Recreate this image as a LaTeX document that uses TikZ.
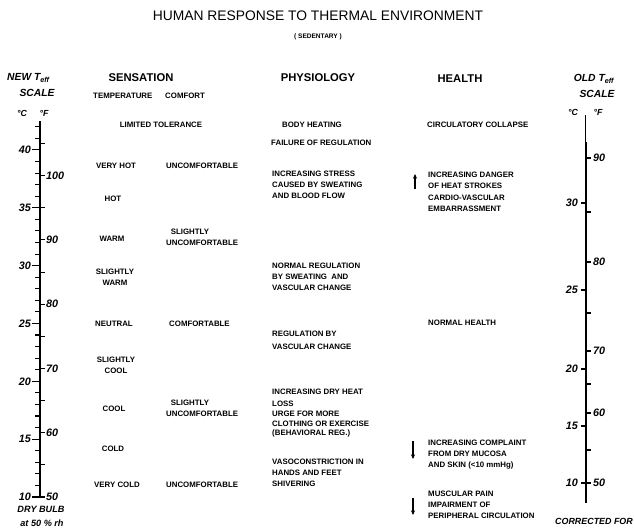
\documentclass[tikz,border=0pt]{standalone}
\usepackage{fontspec}
\setmainfont{Liberation Sans}
\usetikzlibrary{positioning,arrows.meta}
\tikzset{ttl/.style={font=\fontsize{11.8}{13}\selectfont, inner sep=0pt}}
\tikzset{hdr/.style={font=\fontsize{9.6}{11}\selectfont\bfseries, inner sep=0pt}}
\tikzset{lbl/.style={font=\fontsize{6.7}{9.6}\selectfont\bfseries, inner sep=0pt, align=left}}
\tikzset{scl/.style={font=\fontsize{8.8}{10}\selectfont\bfseries\itshape, inner sep=0pt}}
\tikzset{num/.style={font=\fontsize{9.2}{10}\selectfont\bfseries\itshape, inner sep=0pt}}
\tikzset{axis/.style={line width=1.6pt}}
\tikzset{tk/.style={line width=0.9pt}}
\tikzset{arr2/.style={draw, -{Stealth[length=4pt, width=3.5pt]}, line width=0.9pt}}

\begin{document}
\begin{tikzpicture}[x=0.03cm, y=-0.03cm]
\useasboundingbox (0,0) rectangle (634,529);
% title
\node[ttl] (title) at (318,16) {HUMAN RESPONSE TO THERMAL ENVIRONMENT};
\node[lbl, font=\fontsize{5.6}{6}\selectfont\bfseries] (sed) at (318,37) {( SEDENTARY )};
% column heads
\node[scl, anchor=west] (newT) at (7,78) {NEW T\textsubscript{eff}};
\node[scl] (newS) at (37,93) {SCALE};
\node[scl, font=\fontsize{7.5}{9}\selectfont\bfseries\itshape] (newC) at (22,113) {°C};
\node[scl, font=\fontsize{7.5}{9}\selectfont\bfseries\itshape] (newF) at (44,113) {°F};
\node[hdr] (sens) at (141,78) {SENSATION};
\node[hdr] (phys) at (318,78) {PHYSIOLOGY};
\node[hdr] (hlth) at (460,79) {HEALTH};
\node[scl] (oldT) at (594,79) {OLD T\textsubscript{eff}};
\node[scl] (oldS) at (597,94) {SCALE};
\node[scl, font=\fontsize{7.5}{9}\selectfont\bfseries\itshape] (oldC) at (573,112) {°C};
\node[scl, font=\fontsize{7.5}{9}\selectfont\bfseries\itshape] (oldF) at (598,112) {°F};
\node[lbl, anchor=west] (temp) at (93,96) {TEMPERATURE};
\node[lbl, anchor=west] (comf) at (165,96) {COMFORT};

% sensation
\node[lbl] (limit) at (161,125) {LIMITED TOLERANCE};
\node[lbl] (vhot) at (116,166) {VERY HOT};
\node[lbl, anchor=west] (unc1) at (166,166) {UNCOMFORTABLE};
\node[lbl] (hot) at (113,199) {HOT};
\node[lbl] (warm) at (112,239) {WARM};
\node[lbl, anchor=base west] (sunc1) at (166,245.6) {\hspace*{4pt}SLIGHTLY\\UNCOMFORTABLE};
\node[lbl, align=center, anchor=base] (swarm) at (115,285.6) {SLIGHTLY\\WARM};
\node[lbl] (neut) at (114,324) {NEUTRAL};
\node[lbl, anchor=west] (comf2) at (169,324) {COMFORTABLE};
\node[lbl, align=center, anchor=base] (scool) at (116,373.6) {SLIGHTLY\\COOL};
\node[lbl] (cool) at (114,409) {COOL};
\node[lbl, anchor=base west] (sunc2) at (166,416.6) {\hspace*{4pt}SLIGHTLY\\UNCOMFORTABLE};
\node[lbl] (cold) at (113,449) {COLD};
\node[lbl] (vcold) at (117,485) {VERY COLD};
\node[lbl, anchor=west] (unc2) at (166,485) {UNCOMFORTABLE};

% physiology
\node[lbl] (bheat) at (312,125) {BODY HEATING};
\node[lbl, anchor=west] (fail) at (271,143) {FAILURE OF REGULATION};
\node[lbl, anchor=base west] (stress) at (272,198.6) {INCREASING STRESS\\CAUSED BY SWEATING\\AND BLOOD FLOW};
\node[lbl, anchor=base west] (nreg) at (272,290.6) {NORMAL REGULATION\\BY SWEATING\ \ AND\\VASCULAR CHANGE};
\node[lbl, anchor=base west] (vreg) at (272,349.6) {REGULATION BY\\[1.5pt]VASCULAR CHANGE};
\node[lbl, anchor=base west] (dry) at (272,406.6) {INCREASING DRY HEAT\\[1pt]LOSS};
\node[lbl, anchor=base west, font=\fontsize{6.7}{8}\selectfont\bfseries] (urge) at (272,435.6) {URGE FOR MORE\\CLOTHING OR EXERCISE\\(BEHAVIORAL REG.)};
\node[lbl, anchor=base west] (vaso) at (272,486.6) {VASOCONSTRICTION IN\\HANDS AND FEET\\SHIVERING};

% health
\node[lbl, anchor=west] (circ) at (427,125) {CIRCULATORY COLLAPSE};
\node[lbl, anchor=base west] (danger) at (428,188.6) {INCREASING DANGER\\OF HEAT STROKES};
\node[lbl, anchor=base west] (cardio) at (428,211.6) {CARDIO-VASCULAR\\EMBARRASSMENT};
\node[lbl, anchor=west] (nhealth) at (428,323) {NORMAL HEALTH};
\node[lbl, anchor=base west] (compl) at (428,467.6) {INCREASING COMPLAINT\\FROM DRY MUCOSA\\AND SKIN (<10 mmHg)};
\node[lbl, anchor=base west] (musc) at (428,518.6) {MUSCULAR PAIN\\IMPAIRMENT OF\\PERIPHERAL CIRCULATION};

% trend arrows
\coordinate (upA) at (415,189);
\coordinate (upB) at (415,174);
\coordinate (dnA) at (413,441);
\coordinate (dnB) at (413,459);
\coordinate (dnC) at (413,498);
\coordinate (dnD) at (413,515);
\draw[arr2] (upA) -- (upB);
\draw[arr2] (dnA) -- (dnB);
\draw[arr2] (dnC) -- (dnD);

% new scale
\draw[axis] (40,121) -- (40,497);
\foreach \c in {11,...,42}
    \draw[tk] (40,{497-(\c-10)*11.57}) -- ++(-5,0);
\foreach \c in {10,15,...,40} {
    \draw[tk] (40,{497-(\c-10)*11.57}) -- ++(-8,0);
    \node[num, anchor=east] (nc\c) at (31,{497-(\c-10)*11.57}) {\c};
}
\foreach \f in {50,55,...,105}
    \draw[tk] (40,{497-((\f-32)/1.8-10)*11.57}) -- ++(5,0);
\foreach \f in {50,60,...,100}
    \node[num, anchor=west] (nf\f) at (46,{497-((\f-32)/1.8-10)*11.57}) {\f};
\node[scl, font=\fontsize{7.8}{9}\selectfont\bfseries\itshape] (dbulb) at (41,509) {DRY BULB};
\node[scl, font=\fontsize{7.8}{9}\selectfont\bfseries\itshape] (rh) at (42,523) {at 50 \% rh};

% old scale
\draw[line width=0.9pt] (585.5,115) -- (585.5,142);
\draw[axis] (586,142) -- (586,503);
\foreach \c/\yy in {30/203,25/290,20/369,15/426,10/483} {
    \draw[tk] (586,\yy) -- ++(-5,0);
    \node[num, anchor=east] (oc\c) at (578,\yy) {\c};
}
\foreach \f/\yy in {90/158,85/212,80/262,75/313,70/351,65/384,60/413,55/450,50/483}
    \draw[tk] (586,\yy) -- ++(5,0);
\foreach \f/\yy in {90/158,80/262,70/351,60/413,50/483}
    \node[num, anchor=west] (of\f) at (593,\yy) {\f};
\node[scl, font=\fontsize{7.6}{8}\selectfont\bfseries\itshape] (corr) at (594,521) {CORRECTED FOR};
\end{tikzpicture}
\end{document}
